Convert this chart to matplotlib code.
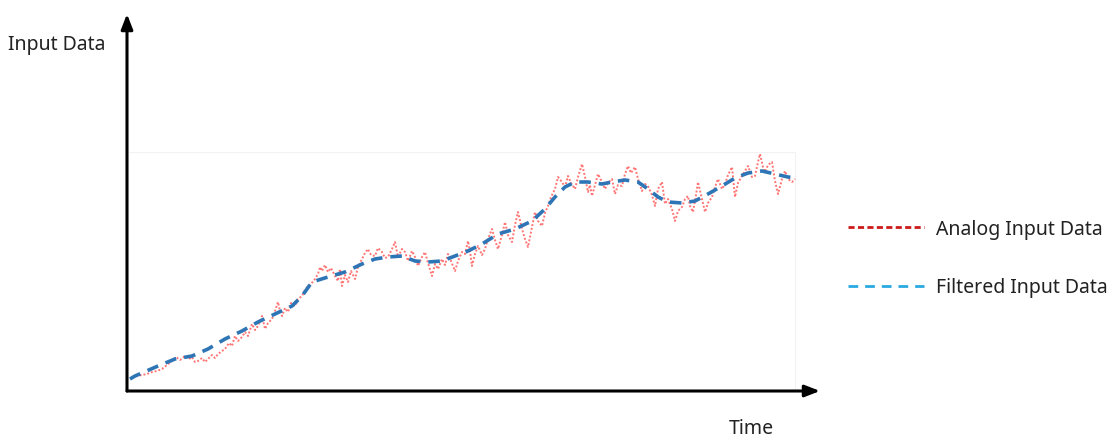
import matplotlib
matplotlib.use("Agg")
import matplotlib.pyplot as plt
from matplotlib.lines import Line2D

# Analog (noisy) input data: time, value
analog_t = [2, 7, 12, 17, 22, 27, 32, 37, 42, 46, 50, 55, 59, 62, 65, 68, 72, 75, 78, 82,
            85, 88, 92, 95, 99, 102, 105, 108, 112, 115, 118, 122, 125, 128, 130, 132, 135, 138, 142, 145,
            148, 150, 152, 155, 158, 161, 165, 168, 172, 175, 178, 181, 185, 188, 190, 192, 195, 198, 201, 205,
            208, 210, 212, 215, 218, 221, 225, 228, 232, 235, 238, 241, 245, 248, 252, 255, 258, 262, 265, 268,
            272, 275, 278, 282, 285, 288, 292, 295, 298, 302, 305, 308, 312, 315, 318, 321, 325, 328, 332, 335,
            338, 340, 342, 345, 348, 352, 355, 358, 362, 365, 368, 372, 375, 378, 382, 385, 388, 392, 395, 398,
            402, 405, 408, 412, 415, 418, 421, 425, 428, 432, 435, 438, 441, 445, 448, 452, 455, 458, 460, 462,
            465, 468, 472, 475, 478, 482, 485, 488, 492, 495, 498, 501, 505, 508, 512, 515, 518, 522, 525, 528,
            532, 535, 538, 542, 545, 548, 552, 555, 558, 560, 563, 566, 568, 572, 575, 578, 582, 585, 588, 592,
            595, 598, 602, 605, 608, 612, 615, 618, 622, 625, 628, 630, 633, 635, 638, 642, 645, 648, 652, 655,
            658, 662, 665]
analog_v = [14, 15, 16, 17, 19, 20, 22, 26, 30, 34, 31, 35, 32, 34, 29, 30, 33, 29, 32, 36,
            33, 37, 40, 42, 48, 45, 55, 50, 54, 59, 55, 67, 61, 65, 70, 75, 62, 68, 72, 80,
            89, 80, 75, 83, 79, 88, 85, 92, 95, 101, 105, 107, 112, 117, 124, 120, 126, 119, 123, 115,
            110, 122, 105, 116, 109, 120, 112, 124, 132, 138, 142, 136, 135, 143, 139, 133, 134, 142, 149, 134,
            142, 139, 130, 140, 134, 125, 134, 139, 128, 115, 127, 122, 132, 126, 137, 130, 120, 130, 139, 137,
            150, 140, 125, 137, 145, 136, 142, 152, 162, 151, 142, 156, 169, 156, 149, 166, 179, 162, 152, 144,
            164, 179, 170, 165, 178, 185, 194, 202, 214, 209, 204, 215, 208, 202, 214, 227, 214, 199, 206, 195,
            206, 217, 209, 202, 208, 212, 197, 206, 205, 217, 225, 218, 224, 212, 200, 207, 205, 196, 185, 202,
            209, 187, 192, 182, 170, 180, 184, 192, 195, 185, 179, 196, 209, 192, 179, 188, 194, 204, 212, 202,
            207, 216, 224, 194, 208, 215, 220, 225, 214, 215, 229, 237, 224, 219, 226, 229, 210, 197, 212, 220,
            212, 209, 212]

# Filtered input data: time, value
filtered_t = [0, 5, 28, 45, 62, 78, 95, 112, 128, 145, 162, 172, 182, 198, 215, 232, 245, 258, 272, 285,
              298, 312, 325, 338, 352, 368, 385, 402, 415, 425, 435, 445, 458, 472, 482, 495, 508, 518, 528, 538,
              552, 565, 578, 592, 605, 618, 632, 645, 658, 665]
filtered_v = [12, 15, 25, 32, 35, 42, 52, 60, 69, 77, 85, 95, 109, 114, 119, 127, 132, 134, 135, 130,
              129, 130, 135, 140, 147, 157, 162, 170, 182, 194, 204, 209, 209, 207, 209, 211, 209, 202, 194, 189,
              188, 190, 197, 205, 213, 218, 220, 217, 214, 213]

labels = ["Analog Input Data", "Filtered Input Data"]
font = ["Noto Sans", "DejaVu Sans"]

fig = plt.figure(figsize=(11.15, 4.39), dpi=100)
ax = fig.add_axes([127 / 1115, 47 / 439, 693 / 1115, 377 / 439])
ax.set_xlim(-3, 690)
ax.set_ylim(0, 377)
for s in ax.spines.values():
    s.set_visible(False)
ax.set_xticks([])
ax.set_yticks([])

# faint plot-area box
ax.plot([-1, 665, 665], [239, 239, 1], color="#f2f2f2", lw=0.8, zorder=0)

ax.plot(analog_t, analog_v, color="#ff3b3b", alpha=0.7, lw=1.4,
        linestyle=(0, (1, 1.0)), zorder=2)
ax.plot(filtered_t, filtered_v, color="#2e75b6", lw=2.6,
        linestyle=(0, (3.2, 2.2)), zorder=3)

# axes arrows
ax.annotate("", xy=(1, 0), xytext=(0, 0), xycoords="axes fraction",
            arrowprops=dict(arrowstyle="-|>,head_length=0.9,head_width=0.35",
                            color="black", lw=2.2, shrinkA=0, shrinkB=0))
ax.annotate("", xy=(0, 1), xytext=(0, 0), xycoords="axes fraction",
            arrowprops=dict(arrowstyle="-|>,head_length=0.9,head_width=0.35",
                            color="black", lw=2.2, shrinkA=0, shrinkB=0))

fig.text(8 / 1115, 1 - 45 / 439, "Input Data", fontsize=14, family=font,
         color="#222222", va="center", ha="left")
fig.text(751 / 1115, 1 - 429 / 439, "Time", fontsize=14, family=font,
         color="#222222", va="center", ha="center")

handles = [Line2D([0], [0], color="#cc1a1a", lw=2, linestyle=(0, (2.2, 1.2))),
           Line2D([0], [0], color="#29a9e0", lw=2, linestyle=(0, (3.5, 2.5)))]
leg = fig.legend(handles, labels, loc="center left",
                 bbox_to_anchor=(848 / 1115, 1 - 259 / 439),
                 frameon=False, prop={"family": font, "size": 14},
                 handlelength=3.9, handletextpad=0.6, labelspacing=2.0,
                 borderpad=0, borderaxespad=0,
                 labelcolor="#222222")

fig.savefig("out.png", dpi=100)
